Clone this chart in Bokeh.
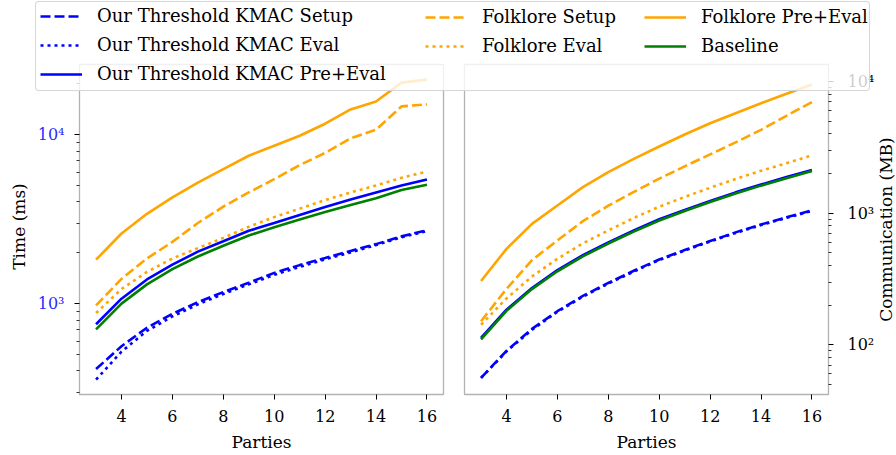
import math
from bokeh.plotting import figure
from bokeh.models import (Range1d, LogScale, LogAxis, LinearAxis, FixedTicker, Legend,
                          LegendItem, Label, BoxAnnotation)
from bokeh.embed import file_html
from bokeh.resources import INLINE

# ---------------- data ----------------
parties = [3, 4, 5, 6, 7, 8, 9, 10, 11, 12, 13, 14, 15, 16]

# Time (ms)
our_setup_time = [410, 560, 720, 870, 1020, 1170, 1330, 1520, 1690, 1860, 2050, 2250, 2500, 2720]
our_eval_time = [355, 520, 690, 840, 990, 1140, 1300, 1480, 1650, 1830, 2010, 2220, 2470, 2690]
our_pre_eval_time = [755, 1070, 1390, 1700, 2030, 2340, 2700, 3000, 3350, 3730, 4130, 4550, 5000, 5420]
folklore_setup_time = [977, 1400, 1850, 2320, 3000, 3750, 4550, 5450, 6600, 7800, 9500, 10700, 14700, 15100]
folklore_eval_time = [880, 1220, 1540, 1850, 2130, 2450, 2850, 3250, 3650, 4100, 4550, 5000, 5550, 6050]
folklore_pre_eval_time = [1820, 2600, 3400, 4250, 5200, 6250, 7500, 8600, 9850, 11600, 14100, 15700, 20300, 21200]
baseline_time = [705, 1000, 1300, 1600, 1900, 2200, 2530, 2830, 3150, 3480, 3830, 4200, 4700, 5050]

# Communication (MB)
our_setup_comm = [56, 90, 132, 180, 235, 295, 365, 445, 525, 615, 715, 820, 930, 1050]
our_eval_comm = [56, 89, 130, 178, 232, 292, 360, 440, 520, 610, 708, 812, 922, 1040]
our_pre_eval_comm = [113, 185, 270, 370, 480, 600, 740, 900, 1060, 1240, 1440, 1650, 1880, 2130]
folklore_setup_comm = [151, 266, 440, 620, 870, 1140, 1450, 1830, 2270, 2800, 3450, 4300, 5500, 7000]
folklore_eval_comm = [142, 225, 330, 450, 590, 740, 920, 1120, 1330, 1560, 1820, 2100, 2400, 2750]
folklore_pre_eval_comm = [305, 536, 830, 1144, 1577, 2050, 2590, 3215, 3965, 4830, 5750, 6850, 8080, 9500]
baseline_comm = [110, 181, 265, 362, 470, 588, 725, 880, 1040, 1215, 1410, 1620, 1845, 2090]

x_tick_values = [4, 6, 8, 10, 12, 14, 16]
time_decades = [1000, 10000]
comm_decades = [100, 1000, 10000]
sup = {2: "\u00b2", 3: "\u00b3", 4: "\u2074"}

series = [
    ("Our Threshold KMAC Setup", our_setup_time, our_setup_comm, "blue", "10 4"),
    ("Our Threshold KMAC Eval", our_eval_time, our_eval_comm, "blue", "3 4"),
    ("Our Threshold KMAC Pre+Eval", our_pre_eval_time, our_pre_eval_comm, "blue", "solid"),
    ("Folklore Setup", folklore_setup_time, folklore_setup_comm, "orange", "10 4"),
    ("Folklore Eval", folklore_eval_time, folklore_eval_comm, "orange", "3 4"),
    ("Folklore Pre+Eval", folklore_pre_eval_time, folklore_pre_eval_comm, "orange", "solid"),
    ("Baseline", baseline_time, baseline_comm, "green", "solid"),
]

# ---------------- geometry (pixels) ----------------
FONT = "DejaVu Serif"
W, H = 896, 455
L_LEFT, L_RIGHT = 79, 443      # left panel
R_LEFT, R_RIGHT = 464, 828     # right panel
P_TOP, P_BOT = 64, 394
X0, X1 = 2.35, 16.65           # x limits of each panel
T_LO, T_HI = 290, 26000        # time axis limits
C_LO, C_HI = 41.9, 13490       # communication axis limits
LW = 2.6

k = (L_RIGHT - L_LEFT) / (X1 - X0)          # px per party

def log_range(lo, hi):
    d = math.log10(hi / lo) / (P_BOT - P_TOP)  # decades per px
    return Range1d(lo * 10 ** (-(H - P_BOT) * d), hi * 10 ** (P_TOP * d))

p = figure(width=W, height=H,
           x_range=Range1d(X0 - L_LEFT / k, X0 + (W - L_LEFT) / k),
           y_range=log_range(T_LO, T_HI), y_axis_type="log",
           output_backend="svg", toolbar_location=None, min_border=0,
           outline_line_color=None, background_fill_color="white",
           border_fill_color="white")
p.title.visible = False
p.xgrid.visible = False
p.ygrid.visible = False

p.extra_x_ranges = {"xr": Range1d(X0 - R_LEFT / k, X0 + (W - R_LEFT) / k)}
p.extra_y_ranges = {"yr": log_range(C_LO, C_HI)}
p.extra_y_scales = {"yr": LogScale()}

def minors(decs, lo, hi):
    out = []
    for d in decs:
        for m in range(2, 10):
            v = m * d
            if lo <= v <= hi:
                out.append(v)
    return out

ax_xl = p.xaxis[0]
ax_tl = p.yaxis[0]
ax_xr = LinearAxis(x_range_name="xr")
ax_cr = LogAxis(y_range_name="yr", x_range_name="xr")
p.add_layout(ax_xr, "below")
p.add_layout(ax_cr, "right")

for ax in (ax_xl, ax_xr):
    ax.ticker = FixedTicker(ticks=x_tick_values, minor_ticks=[])
    ax.fixed_location = T_LO
    ax.bounds = (X0, X1)
    ax.major_label_standoff = 10
    ax.major_label_text_color = "black"

ax_tl.ticker = FixedTicker(ticks=time_decades, minor_ticks=minors([100, 1000, 10000], T_LO, T_HI))
ax_tl.major_label_overrides = {d: "10" + sup[int(round(math.log10(d)))] for d in time_decades}
ax_tl.major_label_text_color = "#2b2bff"
ax_tl.fixed_location = X0
ax_tl.bounds = (T_LO, T_HI)
ax_tl.major_label_standoff = 10

ax_cr.ticker = FixedTicker(ticks=comm_decades, minor_ticks=minors([10, 100, 1000], C_LO, C_HI))
ax_cr.major_label_overrides = {d: "10" + sup[int(round(math.log10(d)))] for d in comm_decades}
ax_cr.major_label_text_color = "black"
ax_cr.fixed_location = X1
ax_cr.bounds = (C_LO, C_HI)
ax_cr.major_label_standoff = 14

for ax in (ax_xl, ax_xr, ax_tl, ax_cr):
    ax.axis_line_color = None
    ax.major_tick_in = 0
    ax.major_tick_out = 5
    ax.minor_tick_in = 0
    ax.minor_tick_out = 3
    ax.major_tick_line_color = "black"
    ax.minor_tick_line_color = "black"
    ax.major_tick_line_width = 1
    ax.minor_tick_line_width = 0.8
    ax.major_label_text_font = FONT
    ax.major_label_text_font_size = "16px"

# ---------------- lines ----------------
left_renderers = {}
for name, tvals, cvals, color, dash in series:
    r = p.line(parties, tvals, line_color=color, line_width=LW, line_dash=dash)
    p.line(parties, cvals, line_color=color, line_width=LW, line_dash=dash,
           x_range_name="xr", y_range_name="yr")
    left_renderers[name] = r

# panel spines
p.add_layout(BoxAnnotation(left=X0, right=X1, bottom=T_LO, top=T_HI, fill_alpha=0,
                           line_color="black", line_width=1.3))
p.add_layout(BoxAnnotation(left=X0, right=X1, bottom=C_LO, top=C_HI,
                           x_range_name="xr", y_range_name="yr", fill_alpha=0,
                           line_color="black", line_width=1.3))

# axis titles (screen units: from frame left / frame bottom)
def title(text, x, y, angle=0.0):
    p.add_layout(Label(x=x, y=y, x_units="screen", y_units="screen", text=text,
                       angle=angle, text_align="center", text_baseline="middle",
                       text_font=FONT, text_font_size="17px", text_color="black"))

title("Time (ms)", 18, H - 226, math.pi / 2)
title("Communication (MB)", 885, H - 229, math.pi / 2)
title("Parties", (L_LEFT + L_RIGHT) / 2, H - 441)
title("Parties", (R_LEFT + R_RIGHT) / 2, H - 441)

# ---------------- legend ----------------
dummy = p.line([], [], line_alpha=0)
BOX_L, BOX_R, BOX_T, BOX_B = 35, 868, 3, 91
box_kwargs = dict(items=[LegendItem(label="", renderers=[dummy])],
                  location=(BOX_L, H - BOX_B),
                  padding=0, margin=0, glyph_width=1, glyph_height=BOX_B - BOX_T,
                  label_width=BOX_R - BOX_L - 1, label_height=BOX_B - BOX_T, label_standoff=0,
                  border_line_color="#cccccc", border_line_alpha=0.8, border_line_width=1,
                  background_fill_color="white", background_fill_alpha=0.8,
                  label_text_font_size="10px")
if "border_radius" in Legend.properties():
    box_kwargs["border_radius"] = 4
p.add_layout(Legend(**box_kwargs))

ROW_H, ROW_GAP, ROW_TOP = 20, 8, 8
cols = [
    (["Our Threshold KMAC Setup", "Our Threshold KMAC Eval", "Our Threshold KMAC Pre+Eval"], 40),
    (["Folklore Setup", "Folklore Eval"], 425),
    (["Folklore Pre+Eval", "Baseline"], 644),
]
for names, left in cols:
    n = len(names)
    bottom = ROW_TOP + n * ROW_H + (n - 1) * ROW_GAP
    leg = Legend(items=[LegendItem(label=nm, renderers=[left_renderers[nm]]) for nm in names],
                 location=(left, H - bottom), orientation="vertical", padding=0, margin=0,
                 spacing=ROW_GAP, label_height=ROW_H, glyph_height=ROW_H, glyph_width=42,
                 label_standoff=15, background_fill_alpha=0, border_line_color=None,
                 label_text_font=FONT, label_text_font_size="18px",
                 label_text_color="black")
    p.add_layout(leg)

with open("out.html", "w") as f:
    f.write(file_html(p, INLINE))
